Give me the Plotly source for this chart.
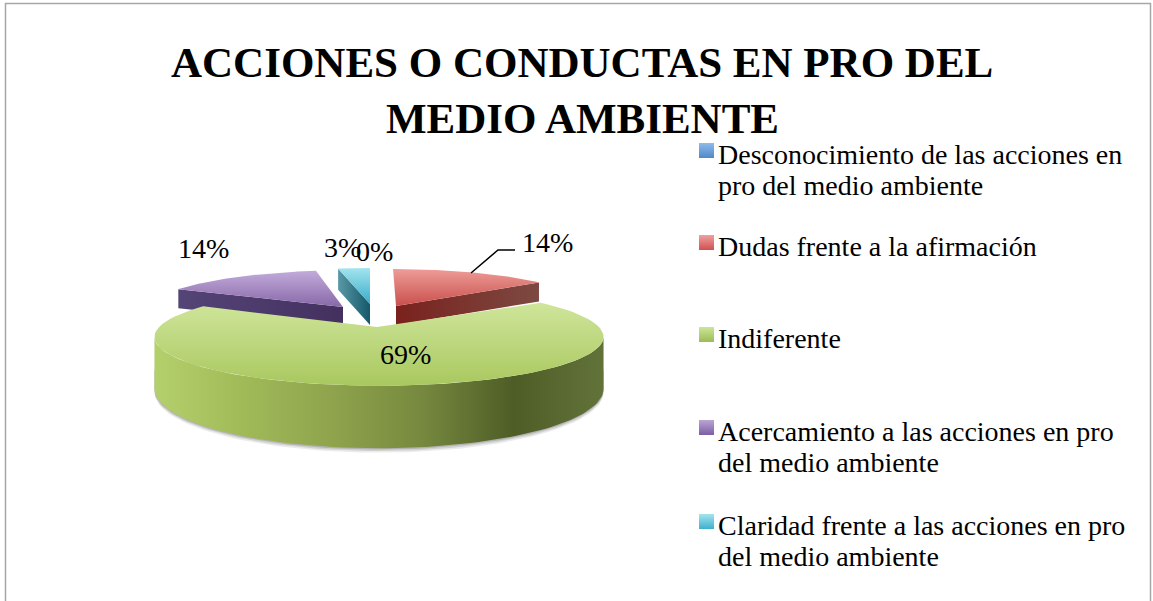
import math
import plotly.graph_objects as go

# ---------- data ----------
categories = [
    "Desconocimiento de las acciones en pro del medio ambiente",
    "Dudas frente a la afirmación",
    "Indiferente",
    "Acercamiento a las acciones en pro del medio ambiente",
    "Claridad frente a las acciones en pro del medio ambiente",
]
values = [0, 14, 69, 14, 3]
title_lines = ["ACCIONES O CONDUCTAS EN PRO DEL", "MEDIO AMBIENTE"]
legend_lines = [
    ["Desconocimiento de las acciones en", "pro del medio ambiente"],
    ["Dudas frente a la afirmación"],
    ["Indiferente"],
    ["Acercamiento a las acciones en pro", "del medio ambiente"],
    ["Claridad frente a las acciones en pro", "del medio ambiente"],
]

# ---------- styling / layout (not data) ----------
W, H = 1153, 601
FONT = "Liberation Serif"
# per slice: centre x, centre y, rx, ry, depth, perspective, skew, start pad (deg)
geom = {
    1: dict(cx=396, cy=306, rx=188, ry=37, d=19, k=0, sk=0.08, pad=0),
    2: dict(cx=379, cy=327, rx=220, ry=47, d=50, k=0.2, sk=0, pad=4.6),
    3: dict(cx=343, cy=307, rx=193, ry=37, d=19, k=0, sk=-0.25, pad=0),
    4: dict(cx=370, cy=304, rx=170, ry=36, d=21, k=0, sk=0, pad=0),
}
# listed from the top of the shape to its bottom
top_scale = {
    1: ["#ee9c98", "#c9504c"],
    2: ["#cfe59b", "#a9c85f"],
    3: ["#c2abdb", "#8868a8"],
    4: ["#a3e4ef", "#38acc8"],
}
wall_scale = {
    1: ["#7a211d", "#7c4a42"],
    2: ["#b4d06c", "#a0ba58", "#8ea34c", "#75883e", "#4e5d26", "#62733a"],
    3: ["#544577", "#44305f"],
    4: ["#5a98a6", "#14586a"],
}
legend_scale = [
    ["#8fbaec", "#4f88c8"], ["#f0a0a0", "#d05050"], ["#cce59a", "#9dbb55"],
    ["#baa5d4", "#7b5ea4"], ["#a3e4ef", "#3fb0cc"],
]
legend_first_baseline = [163, 255, 347, 440, 534]
label_pos = {1: (547, 242), 2: (405, 354), 3: (203, 248), 4: (342, 247), 0: (374, 251)}


def scale(cols):
    n = len(cols) - 1
    return [[i / n, c] for i, c in enumerate(cols)]


def pt(g, deg, drop=0.0):
    t = math.radians(deg)
    y_fwd = -math.cos(t)
    s = 1 / (1 - g["k"] * y_fwd)
    dy = g["ry"] * y_fwd * s
    return g["cx"] + g["rx"] * math.sin(t) * s + g["sk"] * dy, g["cy"] + dy + drop * s


def arc(g, a0, a1, drop=0.0, n=80):
    p = [pt(g, a0 + (a1 - a0) * i / n, drop) for i in range(n + 1)]
    return [q[0] for q in p], [q[1] for q in p]


def poly(xs, ys, name, cols=None, kind="vertical", fill=None):
    tr = dict(x=xs + xs[:1], y=ys + ys[:1], mode="lines", line=dict(width=0),
              fill="toself", name=name, hoverinfo="skip", showlegend=False)
    if cols:
        # the y axis runs downward, so a vertical ramp is given bottom first
        ramp = cols[::-1] if kind == "vertical" else cols
        tr["fillgradient"] = dict(type=kind, colorscale=scale(ramp))
    else:
        tr["fillcolor"] = fill
    return go.Scatter(**tr)


# angle spans from the values
spans, acc = {}, 0.0
for i, v in enumerate(values):
    spans[i] = (acc * 3.6, (acc + v) * 3.6)
    acc += v

fig = go.Figure()

for i in [1, 3, 4]:  # back slices
    g = geom[i]
    a0, a1 = spans[i]
    edge = a1 if i == 1 else a0
    ex, ey = pt(g, edge)
    ax, ay = g["cx"], g["cy"]
    fig.add_trace(poly([ax, ex, ex, ax], [ay, ey, ey + g["d"], ay + g["d"]],
                       categories[i] + " (lado)", wall_scale[i], "horizontal"))
    xs, ys = arc(g, a0, a1)
    fig.add_trace(poly([ax] + xs, [ay] + ys, categories[i], top_scale[i]))

# large slice: shadow, wall, top
g = geom[2]
a0, a1 = spans[2]
a0 += g["pad"]
# the wall runs between the two widest points of the top face
scan = [a0 + (a1 - a0) * i / 720 for i in range(721)]
t_right = max(scan, key=lambda a: pt(g, a)[0])
t_left = min(scan, key=lambda a: pt(g, a)[0])
for grow, alpha in [(3.5, 0.10), (2.2, 0.15), (1.0, 0.2)]:
    xs, ys = arc(g, t_right, t_left, g["d"] + grow)
    xt, yt = arc(g, t_left, t_right, g["d"] * 0.6)
    fig.add_trace(poly(xs + xt, ys + yt, "sombra", fill=f"rgba(60,60,60,{alpha})"))
xs, ys = arc(g, t_right, t_left)
xb, yb = arc(g, t_left, t_right, g["d"])
fig.add_trace(poly(xs + xb, ys + yb, categories[2] + " (lado)", wall_scale[2], "horizontal"))
xs, ys = arc(g, a0, a1)
fig.add_trace(poly([377] + xs, [327] + ys, categories[2], top_scale[2]))

# leader line for the red slice
fig.add_trace(go.Scatter(x=[471, 498, 515], y=[273, 250, 250], mode="lines",
                         line=dict(color="black", width=1.5), hoverinfo="skip", showlegend=False))

# frame
fig.add_trace(go.Scatter(x=[5.5, 5.5, 1150.5, 1150.5], y=[601, 3.5, 3.5, 601], mode="lines",
                         line=dict(color="#a6a6a6", width=1.5), hoverinfo="skip", showlegend=False))

# legend keys
for i, cols in enumerate(legend_scale):
    top = legend_first_baseline[i] - 20
    fig.add_trace(poly([699, 714, 714, 699], [top, top, top + 15, top + 15],
                       categories[i], cols))

ann = []


def text(x, y, s, size, anchor="left", bold=False):
    ann.append(dict(x=x, y=y, text=f"<b>{s}</b>" if bold else s, showarrow=False, xanchor=anchor,
                    yanchor="middle", xref="x", yref="y", borderpad=0, borderwidth=0,
                    font=dict(family=FONT, size=size, color="black")))


text(582, 62, title_lines[0], 43, "center", True)
text(582, 118, title_lines[1], 43, "center", True)
for i, lines in enumerate(legend_lines):
    for j, ln in enumerate(lines):
        text(718, legend_first_baseline[i] - 9 + j * 31, ln, 28)
for i, v in enumerate(values):
    x, y = label_pos[i]
    text(x, y, f"{v}%", 28, "center")

fig.update_layout(
    width=W, height=H, margin=dict(l=0, r=0, t=0, b=0), showlegend=False,
    paper_bgcolor="white", plot_bgcolor="white", annotations=ann,
    xaxis=dict(range=[0, W], visible=False, fixedrange=True),
    yaxis=dict(range=[H, 0], visible=False, fixedrange=True),
)
fig.write_html("out.html", config={"displayModeBar": False},
               post_script="document.body.style.margin='0';")
